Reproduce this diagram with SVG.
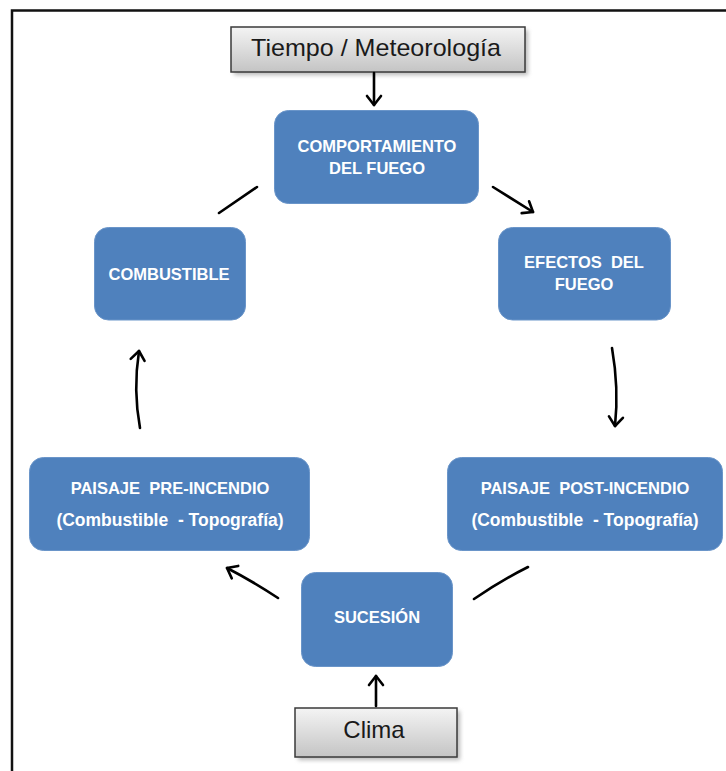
<svg xmlns="http://www.w3.org/2000/svg" width="726" height="771" viewBox="0 0 726 771">
<defs>
<linearGradient id="gray" x1="0" y1="0" x2="0" y2="1">
<stop offset="0" stop-color="#f4f4f4"/>
<stop offset="1" stop-color="#c4c4c4"/>
</linearGradient>
<filter id="shadow" x="-20%" y="-40%" width="140%" height="180%">
<feGaussianBlur stdDeviation="2"/>
</filter>
<marker id="arr" markerUnits="userSpaceOnUse" markerWidth="24" markerHeight="24" viewBox="-12 -12 24 24" refX="0" refY="0" orient="auto">
<path d="M-9,-7 L0,0 L-9,7" fill="none" stroke="#000" stroke-width="2.6" stroke-linecap="round" stroke-linejoin="round"/>
</marker>
</defs>
<style>
.blue{fill:#4f81bd;stroke:#6a95c9;stroke-width:1}
.gbox{fill:url(#gray);stroke:#3a3a3a;stroke-width:1.5}
.sh{fill:#8a8a8a;opacity:0.6;filter:url(#shadow)}
.wt{font-family:"Liberation Sans",Arial,sans-serif;font-weight:bold;font-size:16.5px;fill:#ffffff;text-anchor:middle}
.wt2{font-family:"Liberation Sans",Arial,sans-serif;font-weight:bold;font-size:17.5px;fill:#ffffff;text-anchor:middle}
.dt{font-family:"Liberation Sans",Arial,sans-serif;font-size:24px;fill:#1a1a1a;text-anchor:middle}
.ln{fill:none;stroke:#000;stroke-width:2.6;stroke-linecap:round}
.ah{marker-end:url(#arr)}
</style>
<rect x="0" y="0" width="726" height="771" fill="#ffffff"/>
<rect x="12" y="10.5" width="740" height="790" fill="none" stroke="#111" stroke-width="2.5"/>

<g id="tiempo">
<rect class="sh" x="234" y="30" width="294" height="45"/>
<rect class="gbox" x="231" y="27" width="294" height="45"/>
<text class="dt" x="376" y="56" textLength="250" lengthAdjust="spacingAndGlyphs">Tiempo / Meteorología</text>
</g>

<g id="comportamiento">
<rect class="blue" x="274.5" y="110.5" width="204" height="93" rx="14"/>
<text class="wt" x="377" y="152">COMPORTAMIENTO</text>
<text class="wt" x="377" y="174">DEL FUEGO</text>
</g>

<g id="combustible">
<rect class="blue" x="94.5" y="227.5" width="151" height="92.5" rx="14"/>
<text class="wt" x="169" y="280">COMBUSTIBLE</text>
</g>

<g id="efectos">
<rect class="blue" x="498.5" y="227.5" width="172" height="92.5" rx="14"/>
<text class="wt" x="584" y="268">EFECTOS&#160; DEL</text>
<text class="wt" x="584" y="290">FUEGO</text>
</g>

<g id="pre">
<rect class="blue" x="29.5" y="457.5" width="280" height="93" rx="14"/>
<text class="wt" x="170" y="494">PAISAJE&#160; PRE-INCENDIO</text>
<text class="wt2" x="170" y="526">(Combustible&#160; - Topografía)</text>
</g>

<g id="post">
<rect class="blue" x="447.5" y="457.5" width="275" height="93" rx="14"/>
<text class="wt" x="585" y="494">PAISAJE&#160; POST-INCENDIO</text>
<text class="wt2" x="585" y="526">(Combustible&#160; - Topografía)</text>
</g>

<g id="sucesion">
<rect class="blue" x="301.5" y="572.5" width="151" height="94" rx="14"/>
<text class="wt" x="377" y="623">SUCESIÓN</text>
</g>

<g id="clima">
<rect class="sh" x="298" y="711" width="162" height="49"/>
<rect class="gbox" x="295" y="708" width="162" height="49"/>
<text class="dt" x="374" y="738">Clima</text>
</g>

<g id="connectors">
<path class="ln ah" d="M374,73 L374,105"/>
<path class="ln" d="M219,213 L257,187"/>
<path class="ln ah" d="M493,187 L533,212"/>
<path class="ln ah" d="M612,348 Q619,388 615,426"/>
<path class="ln" d="M528,567 Q502,580 474,599"/>
<path class="ln ah" d="M278,598 Q254,582 227,568"/>
<path class="ln ah" d="M140,428 Q133,390 139,351"/>
<path class="ln ah" d="M376,706 L376,676"/>
</g>
</svg>
